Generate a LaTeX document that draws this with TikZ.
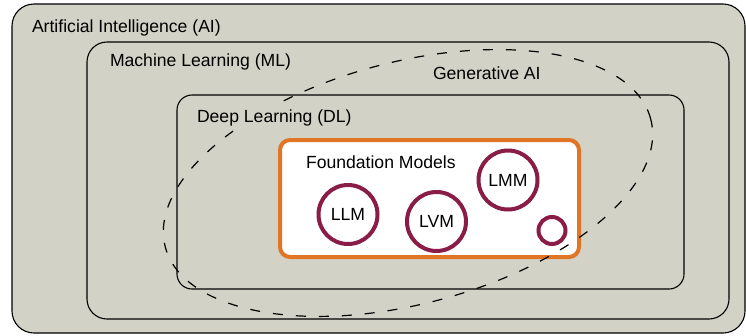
\documentclass[tikz,border=0pt]{standalone}
\usepackage{fontspec}
\setmainfont{Liberation Sans}
\definecolor{bgray}{HTML}{D3D2C6}
\definecolor{forange}{HTML}{E07526}
\definecolor{maroon}{HTML}{8A1C48}
\tikzset{
  layer/.style={draw=black, line width=1.1pt, fill=bgray},
  lbl/.style={anchor=base west, inner sep=0pt, outer sep=0pt, font=\fontsize{17.6}{20}\selectfont},
  model/.style={circle, draw=maroon, line width=4pt, fill=white, inner sep=0pt, minimum size=59pt, font=\fontsize{17.6}{20}\selectfont},
  smallmodel/.style={circle, draw=maroon, line width=4pt, fill=white, inner sep=0pt, minimum size=27pt},
  fmbox/.style={draw=forange, line width=4pt, fill=white, rounded corners=10pt},
  genai/.style={draw=black, line width=1.2pt, dash pattern=on 10pt off 13pt}
}
\begin{document}
\begin{tikzpicture}[x=1pt,y=-1pt]
\useasboundingbox (0,0) rectangle (746,335);
% layers
\draw[layer, rounded corners=22pt] (12,4) rectangle (745,333);
\draw[layer, rounded corners=20pt] (87,42) rectangle (729,319);
\draw[layer, rounded corners=15pt] (177,95) rectangle (684,289);
\draw[fmbox] (280,140) rectangle (579,257);
% generative AI ellipse
\coordinate (E) at (408,183);
\draw[genai, rotate around={14.8:(E)}] (E) ellipse [x radius=251pt, y radius=121pt];
% labels
\node[lbl] (ai) at (32,32) {Artificial Intelligence (AI)};
\node[lbl] (ml) at (110,66) {Machine Learning (ML)};
\node[lbl, fill=bgray, inner xsep=0pt, inner ysep=3pt] (dl) at (197,122) {Deep Learning (DL)};
\node[lbl] (gen) at (433,79) {Generative AI};
\node[lbl] (fm) at (306,168) {Foundation Models};
% model circles
\node[model] (llm) at (348,214.5) {LLM};
\node[model] (lvm) at (436.5,221.5) {LVM};
\node[model] (lmm) at (508,180) {LMM};
\node[smallmodel] (other) at (552,230.5) {};
\end{tikzpicture}
\end{document}
